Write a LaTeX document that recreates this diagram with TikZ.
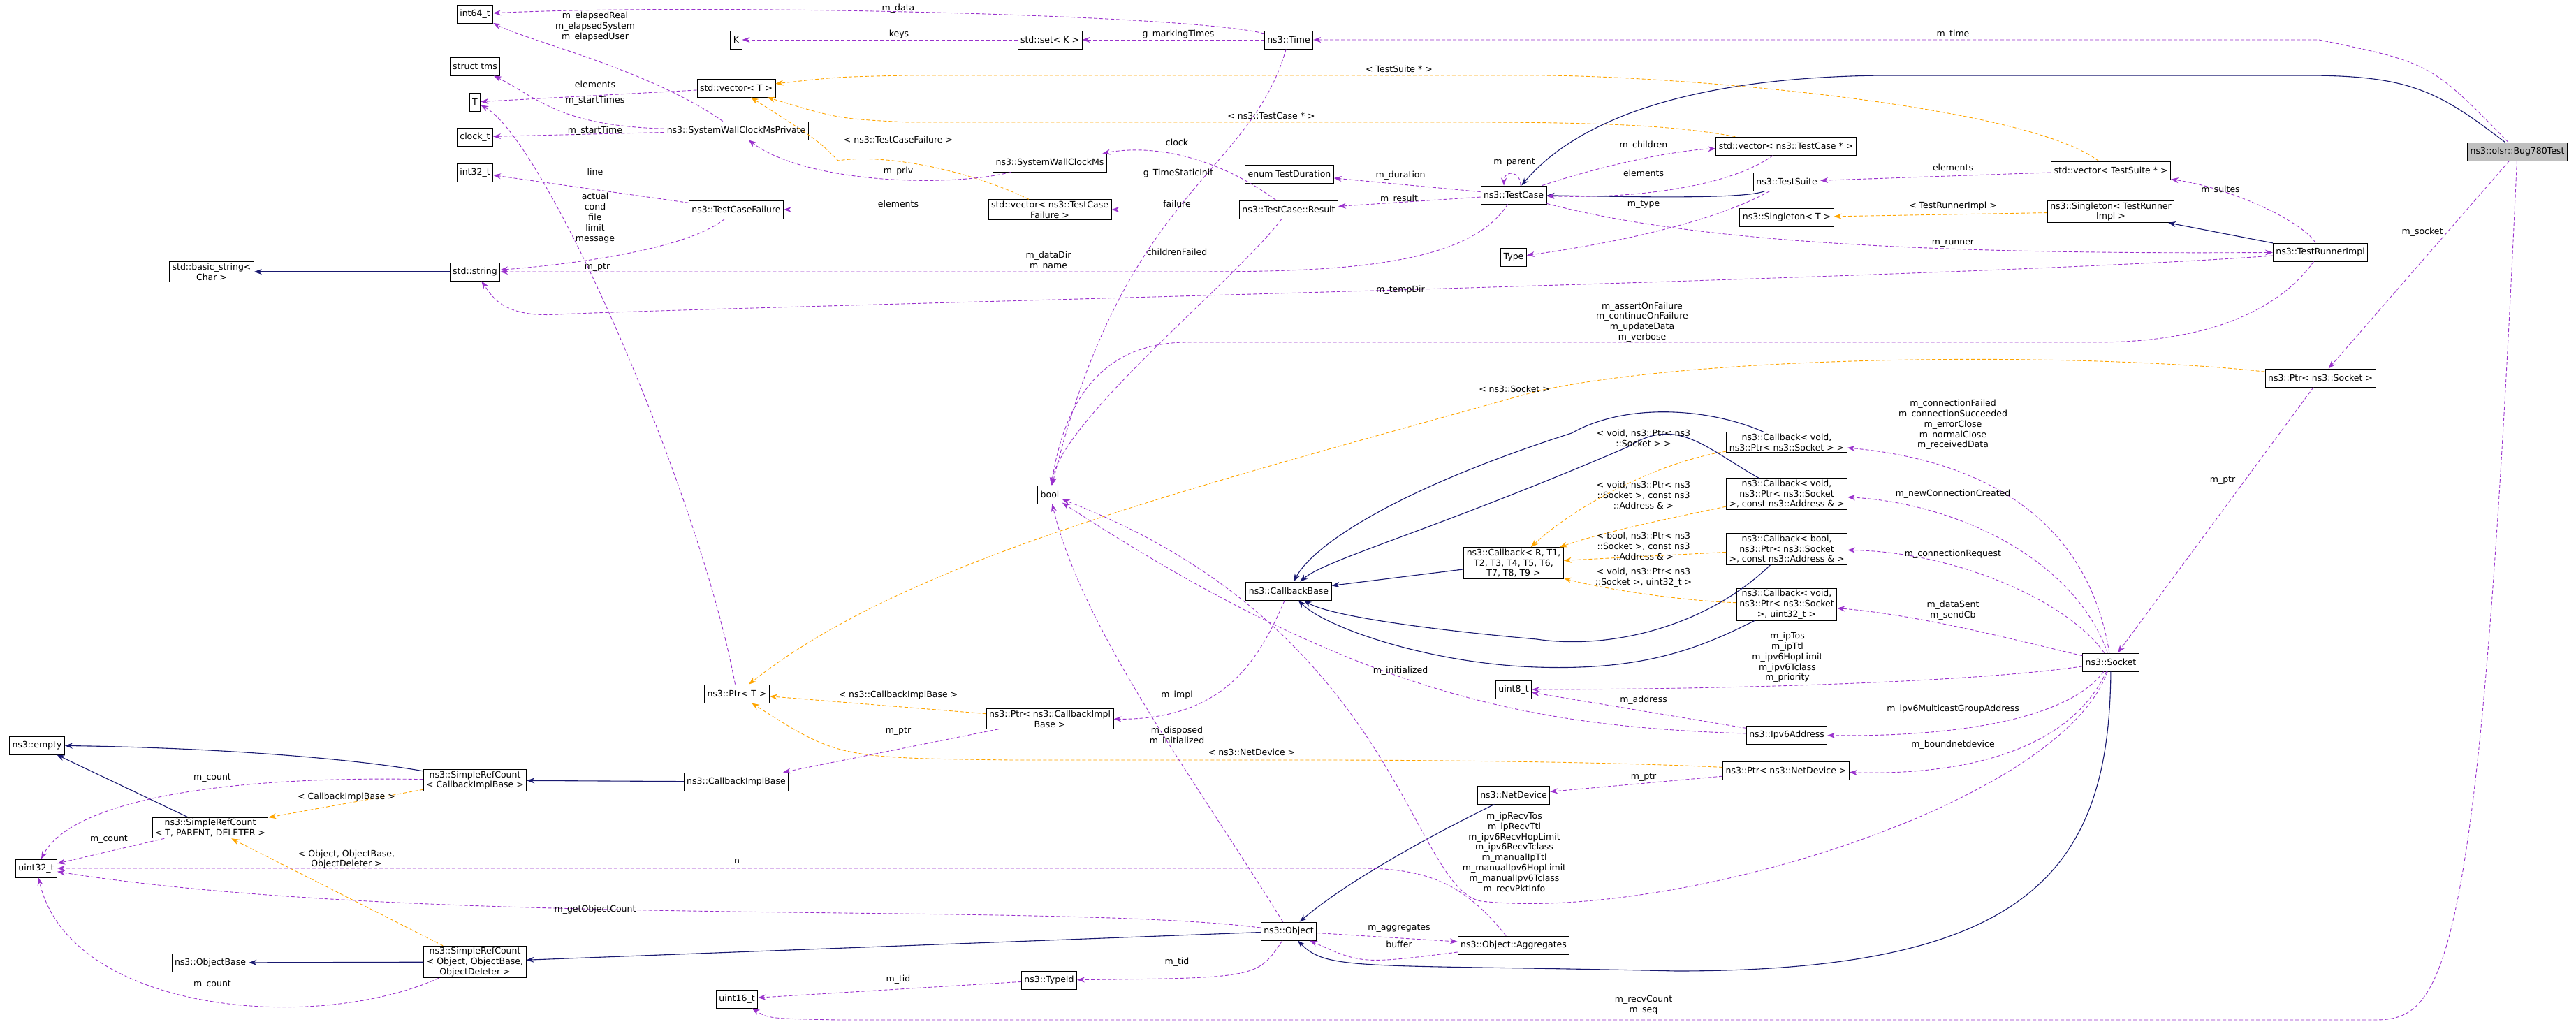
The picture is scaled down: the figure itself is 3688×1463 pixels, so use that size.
\documentclass[tikz,border=0pt]{standalone}
\usepackage{fontspec}
\setmainfont{DejaVu Sans}
\usetikzlibrary{arrows.meta}
\definecolor{usecol}{HTML}{9A32CD}
\definecolor{tplcol}{HTML}{FFA500}
\definecolor{inhcol}{HTML}{191970}
\newcommand{\cfont}{\fontsize{12.5}{14.8}\selectfont}
\tikzset{
  cls/.style={draw=black, line width=0.9pt, fill=white, inner xsep=4pt, inner ysep=2pt,
    minimum height=26pt, align=center, font=\cfont},
  lbl/.style={inner sep=0pt, align=center, font=\cfont},
  use/.style={draw=usecol, line width=0.9pt, dash pattern=on 5pt off 3pt, -{Stealth[length=11pt,width=8pt]}},
  tpl/.style={draw=tplcol, line width=0.9pt, dash pattern=on 5pt off 3pt, -{Stealth[length=11pt,width=8pt]}},
  inh/.style={draw=inhcol, line width=1.1pt, -{Stealth[length=11pt,width=8pt]}},
}
\begin{document}
\begin{tikzpicture}[x=1pt,y=-1pt]
\useasboundingbox (0,0) rectangle (3688,1463);

% classes
\node[cls] (int64) at (680,20) {int64\_t};
\node[cls] (k) at (1054,57) {K};
\node[cls] (set) at (1503,57) {std::set< K >};
\node[cls] (time) at (1845,57) {ns3::Time};
\node[cls] (tms) at (680,95) {struct tms};
\node[cls] (tT) at (680,146) {T};
\node[cls] (vecT) at (1054,126) {std::vector< T >};
\node[cls] (swcmp) at (1054,187) {ns3::SystemWallClockMsPrivate};
\node[cls] (clock) at (680,196) {clock\_t};
\node[cls] (int32) at (680,247) {int32\_t};
\node[cls] (swcms) at (1503,233) {ns3::SystemWallClockMs};
\node[cls] (enum) at (1846,249) {enum TestDuration};
\node[cls] (tcf) at (1054,300) {ns3::TestCaseFailure};
\node[cls] (vecTCF) at (1503,300) {std::vector< ns3::TestCase\\Failure >};
\node[cls] (result) at (1845,300) {ns3::TestCase::Result};
\node[cls] (basic) at (303,389) {std::basic\_string<\\Char >};
\node[cls] (string) at (680,389) {std::string};
\node[cls] (bool) at (1503,708) {bool};
\node[cls] (tc) at (2167,279) {ns3::TestCase};
\node[cls] (vecTC) at (2557,209) {std::vector< ns3::TestCase * >};
\node[cls] (suite) at (2558,260) {ns3::TestSuite};
\node[cls] (sglT) at (2558,311) {ns3::Singleton< T >};
\node[cls] (type) at (2167,368) {Type};
\node[cls] (vecTS) at (3022,244) {std::vector< TestSuite * >};
\node[cls] (sglRun) at (3022,303) {ns3::Singleton< TestRunner\\Impl >};
\node[cls] (runner) at (3322,361) {ns3::TestRunnerImpl};
\node[cls, fill=black!25] (bug) at (3604,217) {ns3::olsr::Bug780Test};
\node[cls] (ptrSock) at (3322,541) {ns3::Ptr< ns3::Socket >};
\node[cls] (cbVoid) at (2558,633) {ns3::Callback< void,\\ns3::Ptr< ns3::Socket > >};
\node[cls] (cbAddr) at (2558,707) {ns3::Callback< void,\\ns3::Ptr< ns3::Socket\\>, const ns3::Address \& >};
\node[cls] (cbase) at (1845,846) {ns3::CallbackBase};
\node[cls] (cbR) at (2167,806) {ns3::Callback< R, T1,\\T2, T3, T4, T5, T6,\\T7, T8, T9 >};
\node[cls] (cbBool) at (2558,786) {ns3::Callback< bool,\\ns3::Ptr< ns3::Socket\\>, const ns3::Address \& >};
\node[cls] (cbU32) at (2558,865) {ns3::Callback< void,\\ns3::Ptr< ns3::Socket\\>, uint32\_t >};
\node[cls] (socket) at (3022,948) {ns3::Socket};
\node[cls] (u8) at (2167,987) {uint8\_t};
\node[cls] (ipv6) at (2558,1052) {ns3::Ipv6Address};
\node[cls] (ptrND) at (2557,1103) {ns3::Ptr< ns3::NetDevice >};
\node[cls] (netdev) at (2167,1138) {ns3::NetDevice};
\node[cls] (object) at (1845,1333) {ns3::Object};
\node[cls] (agg) at (2167,1353) {ns3::Object::Aggregates};
\node[cls] (ptrT) at (1055,993) {ns3::Ptr< T >};
\node[cls] (ptrCIB) at (1503,1029) {ns3::Ptr< ns3::CallbackImpl\\Base >};
\node[cls] (empty) at (53,1067) {ns3::empty};
\node[cls] (srcCIB) at (680,1117) {ns3::SimpleRefCount\\< CallbackImplBase >};
\node[cls] (cib) at (1054,1119) {ns3::CallbackImplBase};
\node[cls] (srcTPD) at (301,1185) {ns3::SimpleRefCount\\< T, PARENT, DELETER >};
\node[cls] (u32) at (52,1243) {uint32\_t};
\node[cls] (objbase) at (301,1378) {ns3::ObjectBase};
\node[cls] (srcObj) at (680,1377) {ns3::SimpleRefCount\\< Object, ObjectBase,\\ObjectDeleter >};
\node[cls] (typeid) at (1502,1403) {ns3::TypeId};
\node[cls] (u16) at (1055,1430) {uint16\_t};

% inheritance
\draw[inh] (bug) .. controls (3490,130) and (3450,108) .. (3300,108) -- (2700,108) .. controls (2400,110) and (2250,180) .. (tc);
\draw[inh] (suite) .. controls (2500,285) and (2350,282) .. (tc);
\draw[inh] (runner) -- (sglRun);
\draw[inh] (string) -- (basic);
\draw[inh] (cbVoid) .. controls (2450,585) and (2330,575) .. (2250,620) .. controls (2000,700) and (1880,780) .. (cbase);
\draw[inh] (cbAddr) .. controls (2440,640) and (2400,595) .. (2330,640) .. controls (2050,760) and (1900,800) .. (cbase);
\draw[inh] (cbBool) .. controls (2440,900) and (2300,930) .. (2200,915) .. controls (2030,900) and (1900,880) .. (cbase);
\draw[inh] (cbU32) .. controls (2430,930) and (2350,960) .. (2200,955) .. controls (2050,950) and (1900,900) .. (cbase);
\draw[inh] (cbR) -- (cbase);
\draw[inh] (srcCIB) .. controls (500,1085) and (300,1070) .. (empty);
\draw[inh] (srcTPD) -- (empty);
\draw[inh] (cib) -- (srcCIB);
\draw[inh] (srcObj) -- (objbase);
\draw[inh] (object) -- (srcObj);
\draw[inh] (netdev) .. controls (2060,1190) and (1930,1260) .. (object);
\draw[inh] (socket) .. controls (3020,1250) and (2900,1390) .. (2400,1390) .. controls (1950,1380) and (1900,1390) .. (object);

% templates
\draw[tpl] (vecTS) .. controls (2900,150) and (2400,108) .. (2200,108) -- (1300,108) .. controls (1200,110) .. (vecT);
\draw[tpl] (vecTC) .. controls (2400,180) and (2300,175) .. (2100,175) -- (1300,175) .. controls (1200,170) .. (vecT);
\draw[tpl] (vecTCF) .. controls (1380,240) and (1260,220) .. (1200,230) .. controls (1170,200) .. (vecT);
\draw[tpl] (sglRun) -- (sglT);
\draw[tpl] (ptrSock) .. controls (3000,505) and (2450,505) .. (2200,560) .. controls (1700,700) and (1300,800) .. (ptrT);
\draw[tpl] (ptrCIB) -- (ptrT);
\draw[tpl] (ptrND) .. controls (2300,1090) and (2000,1088) .. (1900,1088) -- (1450,1088) .. controls (1200,1085) .. (ptrT);
\draw[tpl] (cbVoid) .. controls (2380,660) and (2260,720) .. (cbR);
\draw[tpl] (cbAddr) .. controls (2400,740) and (2300,760) .. (cbR);
\draw[tpl] (cbBool) -- (cbR);
\draw[tpl] (cbU32) .. controls (2400,860) and (2280,840) .. (cbR);
\draw[tpl] (srcCIB) -- (srcTPD);
\draw[tpl] (srcObj) -- (srcTPD);

% members
\draw[use] (time) .. controls (1700,20) and (1000,5) .. (int64);
\draw[use] (swcmp) .. controls (930,100) and (760,60) .. (int64);
\draw[use] (set) -- (k);
\draw[use] (time) -- (set);
\draw[use] (bug) .. controls (3480,90) .. (3320,57) -- (time);
\draw[use] (swcmp) .. controls (800,180) and (770,140) .. (tms);
\draw[use] (vecT) -- (tT);
\draw[use] (swcmp) -- (clock);
\draw[use] (swcms) .. controls (1350,270) and (1150,260) .. (swcmp);
\draw[use] (tcf) -- (int32);
\draw[use] (tcf) .. controls (980,360) and (800,380) .. (string);
\draw[use] (vecTCF) -- (tcf);
\draw[use] (result) -- (vecTCF);
\draw[use] (result) .. controls (1750,230) and (1660,205) .. (swcms);
\draw[use] (result) .. controls (1770,400) and (1520,600) .. (bool);
\draw[use] (time) .. controls (1790,250) and (1610,270) .. (bool);
\draw[use] (tc) .. controls (2100,385) and (1900,389) .. (1700,389) -- (string);
\draw[use] (runner) .. controls (2800,400) and (1000,440) .. (800,450) .. controls (720,455) and (705,425) .. (string);
\draw[use] (runner) .. controls (3280,420) and (3200,490) .. (3000,490) -- (1700,490) .. controls (1560,490) and (1520,600) .. (bool);
\draw[use] (tc) -- (enum);
\draw[use] (tc) -- (result);
\draw[use] ([xshift=10pt]tc.north) .. controls ([xshift=10pt,yshift=22pt]tc.north) and ([xshift=-14pt,yshift=22pt]tc.north) .. ([xshift=-14pt]tc.north);
\draw[use] (tc) .. controls (2300,235) and (2400,215) .. (vecTC);
\draw[use] (vecTC) .. controls (2480,265) and (2350,285) .. (tc);
\draw[use] (suite) .. controls (2450,320) and (2300,350) .. (type);
\draw[use] (tc) .. controls (2400,340) and (2700,365) .. (runner);
\draw[use] (vecTS) -- (suite);
\draw[use] (runner) .. controls (3300,320) and (3200,270) .. (vecTS);
\draw[use] (bug) -- (ptrSock);
\draw[use] (ptrSock) -- (socket);
\draw[use] (socket) .. controls (2990,750) and (2850,660) .. (cbVoid);
\draw[use] (socket) .. controls (2970,800) and (2800,720) .. (cbAddr);
\draw[use] (socket) .. controls (2960,860) and (2800,790) .. (cbBool);
\draw[use] (socket) .. controls (2900,920) and (2750,880) .. (cbU32);
\draw[use] (socket) .. controls (2800,980) and (2400,987) .. (u8);
\draw[use] (ipv6) -- (u8);
\draw[use] (ipv6) .. controls (2200,1040) and (1950,1000) .. (bool);
\draw[use] (socket) .. controls (2960,1030) and (2800,1055) .. (ipv6);
\draw[use] (socket) .. controls (2960,1080) and (2800,1110) .. (ptrND);
\draw[use] (ptrND) -- (netdev);
\draw[use] (socket) .. controls (2950,1150) and (2400,1320) .. (2120,1290) .. controls (2020,1270) and (2000,900) .. (bool);
\draw[use] (object) .. controls (1700,1100) and (1550,900) .. (bool);
\draw[use] (cbase) .. controls (1800,950) and (1750,1030) .. (ptrCIB);
\draw[use] (ptrCIB) -- (cib);
\draw[use] (srcCIB) .. controls (300,1110) and (100,1150) .. (u32);
\draw[use] (srcTPD) -- (u32);
\draw[use] (agg) .. controls (2100,1270) and (2050,1243) .. (1950,1243) -- (u32);
\draw[use] (object) .. controls (1500,1290) and (600,1330) .. (u32);
\draw[use] (srcObj) .. controls (450,1480) and (100,1450) .. (u32);
\draw[use] (object) -- (agg);
\draw[use] (agg) .. controls (1950,1380) .. (object);
\draw[use] (object) .. controls (1800,1400) .. (typeid);
\draw[use] (typeid) -- (u16);
\draw[use] (bug) .. controls (3550,1400) and (3500,1460) .. (3400,1460) -- (1200,1460) .. controls (1100,1458) .. (u16);
\draw[use] (ptrT) .. controls (1000,700) and (780,200) .. (tT);

% labels
\node[lbl] (lData) at (1286,12) {m\_data};
\node[lbl] (lElapsed) at (852,38) {m\_elapsedReal\\m\_elapsedSystem\\m\_elapsedUser};
\node[lbl] (lKeys) at (1287,49) {keys};
\node[lbl] (lMarking) at (1687,49) {g\_markingTimes};
\node[lbl] (lElemT) at (852,121) {elements};
\node[lbl] (lStartTimes) at (852,144) {m\_startTimes};
\node[lbl] (lStartTime) at (852,187) {m\_startTime};
\node[lbl] (lTplTCF) at (1286,200) {< ns3::TestCaseFailure >};
\node[lbl] (lClock) at (1685,204) {clock};
\node[lbl] (lPriv) at (1286,245) {m\_priv};
\node[lbl] (lStatic) at (1687,248) {g\_TimeStaticInit};
\node[lbl] (lLine) at (852,246) {line};
\node[lbl] (lActual) at (852,312) {actual\\cond\\file\\limit\\message};
\node[lbl] (lElemTCF) at (1286,292) {elements};
\node[lbl] (lFailure) at (1685,292) {failure};
\node[lbl] (lChildren) at (1685,361) {childrenFailed};
\node[lbl] (lDataDir) at (1501,374) {m\_dataDir\\m\_name};
\node[lbl] (lPtrT) at (855,383) {m\_ptr};
\node[lbl] (lTplTC) at (1820,166) {< ns3::TestCase * >};
\node[lbl] (lTplTS) at (2003,99) {< TestSuite * >};
\node[lbl] (lTime) at (2796,49) {m\_time};
\node[lbl] (lChildrenTC) at (2353,208) {m\_children};
\node[lbl] (lParent) at (2168,233) {m\_parent};
\node[lbl] (lElemTC) at (2353,248) {elements};
\node[lbl] (lDuration) at (2005,251) {m\_duration};
\node[lbl] (lResult) at (2003,285) {m\_result};
\node[lbl] (lType) at (2353,293) {m\_type};
\node[lbl] (lElemTS) at (2796,240) {elements};
\node[lbl] (lTplRun) at (2796,295) {< TestRunnerImpl >};
\node[lbl] (lSuites) at (3179,272) {m\_suites};
\node[lbl] (lSocket) at (3468,332) {m\_socket};
\node[lbl] (lRunner) at (2796,348) {m\_runner};
\node[lbl] (lTempDir) at (2005,415) {m\_tempDir};
\node[lbl] (lAssert) at (2351,461) {m\_assertOnFailure\\m\_continueOnFailure\\m\_updateData\\m\_verbose};
\node[lbl] (lTplSock) at (2168,557) {< ns3::Socket >};
\node[lbl] (lConnFailed) at (2796,608) {m\_connectionFailed\\m\_connectionSucceeded\\m\_errorClose\\m\_normalClose\\m\_receivedData};
\node[lbl] (lTplVoid) at (2353,627) {< void, ns3::Ptr< ns3\\::Socket > >};
\node[lbl] (lTplAddr) at (2353,709) {< void, ns3::Ptr< ns3\\::Socket >, const ns3\\::Address \& >};
\node[lbl] (lNewConn) at (2796,707) {m\_newConnectionCreated};
\node[lbl] (lPtrSock) at (3182,688) {m\_ptr};
\node[lbl] (lTplBool) at (2353,782) {< bool, ns3::Ptr< ns3\\::Socket >, const ns3\\::Address \& >};
\node[lbl] (lConnReq) at (2796,793) {m\_connectionRequest};
\node[lbl] (lTplU32) at (2353,827) {< void, ns3::Ptr< ns3\\::Socket >, uint32\_t >};
\node[lbl] (lDataSent) at (2796,874) {m\_dataSent\\m\_sendCb};
\node[lbl] (lIpTos) at (2559,941) {m\_ipTos\\m\_ipTtl\\m\_ipv6HopLimit\\m\_ipv6Tclass\\m\_priority};
\node[lbl] (lInit) at (2005,960) {m\_initialized};
\node[lbl] (lAddress) at (2353,1002) {m\_address};
\node[lbl] (lMcast) at (2796,1015) {m\_ipv6MulticastGroupAddress};
\node[lbl] (lBound) at (2796,1066) {m\_boundnetdevice};
\node[lbl] (lTplND) at (1792,1077) {< ns3::NetDevice >};
\node[lbl] (lPtrND) at (2353,1113) {m\_ptr};
\node[lbl] (lRecv) at (2168,1221) {m\_ipRecvTos\\m\_ipRecvTtl\\m\_ipv6RecvHopLimit\\m\_ipv6RecvTclass\\m\_manualIpTtl\\m\_manualIpv6HopLimit\\m\_manualIpv6Tclass\\m\_recvPktInfo};
\node[lbl] (lAggr) at (2003,1329) {m\_aggregates};
\node[lbl] (lBuffer) at (2003,1352) {buffer};
\node[lbl] (lRecvCount) at (2353,1439) {m\_recvCount\\m\_seq};
\node[lbl] (lTplCIB) at (1286,995) {< ns3::CallbackImplBase >};
\node[lbl] (lImpl) at (1685,995) {m\_impl};
\node[lbl] (lPtrCIB) at (1286,1047) {m\_ptr};
\node[lbl] (lDisposed) at (1685,1054) {m\_disposed\\m\_initialized};
\node[lbl] (lCountCIB) at (304,1114) {m\_count};
\node[lbl] (lTplCIB2) at (496,1141) {< CallbackImplBase >};
\node[lbl] (lCountTPD) at (156,1202) {m\_count};
\node[lbl] (lTplObj) at (496,1230) {< Object, ObjectBase,\\ObjectDeleter >};
\node[lbl] (lN) at (1055,1233) {n};
\node[lbl] (lObjCount) at (852,1302) {m\_getObjectCount};
\node[lbl] (lCountObj) at (304,1410) {m\_count};
\node[lbl] (lTidObj) at (1685,1377) {m\_tid};
\node[lbl] (lTidType) at (1286,1402) {m\_tid};
\end{tikzpicture}
\end{document}
